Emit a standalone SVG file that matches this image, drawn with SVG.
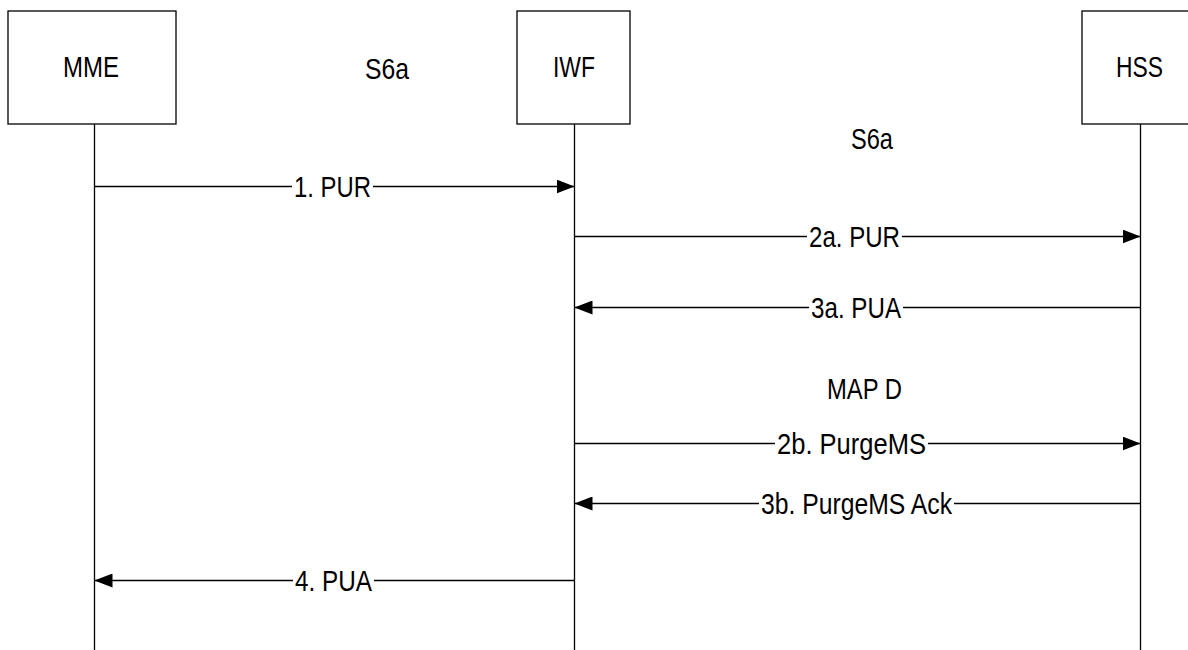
<svg xmlns="http://www.w3.org/2000/svg" width="1188" height="650" viewBox="0 0 1188 650">
<style>
.box{fill:#fff;stroke:#000;stroke-width:1.3}
.life{stroke:#000;stroke-width:1.3;fill:none}
.msg{stroke:#000;stroke-width:1.3;fill:none}
text{font-family:"Liberation Sans",Arial,sans-serif;font-size:29px;fill:#000}
</style>
<defs>
<marker id="ah" markerUnits="userSpaceOnUse" viewBox="0 0 18 14" refX="18" refY="7" markerWidth="18" markerHeight="14" orient="auto">
<path d="M0,0 L18,7 L0,14 Z" fill="#000"/>
</marker>
</defs>
<rect width="1188" height="650" fill="#fff"/>
<g id="MME">
<rect class="box" x="8" y="11" width="168" height="113"/>
<text x="63" y="77" textLength="56" lengthAdjust="spacingAndGlyphs">MME</text>
</g>
<g id="IWF">
<rect class="box" x="517" y="11" width="113" height="113"/>
<text x="553" y="77" textLength="42" lengthAdjust="spacingAndGlyphs">IWF</text>
</g>
<g id="HSS">
<rect class="box" x="1082" y="11" width="116" height="113"/>
<text x="1116" y="77" textLength="47" lengthAdjust="spacingAndGlyphs">HSS</text>
</g>
<g id="lifelines">
<line class="life" x1="94.5" y1="124" x2="94.5" y2="650"/>
<line class="life" x1="574.5" y1="124" x2="574.5" y2="650"/>
<line class="life" x1="1140.5" y1="124" x2="1140.5" y2="650"/>
</g>
<g id="interface-labels">
<text x="365" y="79" textLength="44" lengthAdjust="spacingAndGlyphs">S6a</text>
<text x="851" y="149" textLength="42" lengthAdjust="spacingAndGlyphs">S6a</text>
<text x="827" y="399" textLength="75" lengthAdjust="spacingAndGlyphs">MAP D</text>
</g>
<g id="connectors">
<line class="msg" x1="94.5" y1="186.5" x2="292" y2="186.5"/>
<line class="msg" x1="373" y1="186.5" x2="574.5" y2="186.5" marker-end="url(#ah)"/>
<text x="294" y="197" textLength="77" lengthAdjust="spacingAndGlyphs">1. PUR</text>

<line class="msg" x1="574.5" y1="236.5" x2="807" y2="236.5"/>
<line class="msg" x1="902" y1="236.5" x2="1140.5" y2="236.5" marker-end="url(#ah)"/>
<text x="809" y="247" textLength="91" lengthAdjust="spacingAndGlyphs">2a. PUR</text>

<line class="msg" x1="1140.5" y1="307.5" x2="903" y2="307.5"/>
<line class="msg" x1="809" y1="307.5" x2="574.5" y2="307.5" marker-end="url(#ah)"/>
<text x="811" y="318" textLength="90" lengthAdjust="spacingAndGlyphs">3a. PUA</text>

<line class="msg" x1="574.5" y1="443.5" x2="775" y2="443.5"/>
<line class="msg" x1="928" y1="443.5" x2="1140.5" y2="443.5" marker-end="url(#ah)"/>
<text x="777" y="454" textLength="149" lengthAdjust="spacingAndGlyphs">2b. PurgeMS</text>

<line class="msg" x1="1140.5" y1="503.5" x2="954" y2="503.5"/>
<line class="msg" x1="759" y1="503.5" x2="574.5" y2="503.5" marker-end="url(#ah)"/>
<text x="761" y="514" textLength="191" lengthAdjust="spacingAndGlyphs">3b. PurgeMS Ack</text>

<line class="msg" x1="574.5" y1="580.5" x2="374" y2="580.5"/>
<line class="msg" x1="293" y1="580.5" x2="94.5" y2="580.5" marker-end="url(#ah)"/>
<text x="295" y="591" textLength="77" lengthAdjust="spacingAndGlyphs">4. PUA</text>
</g>
</svg>
